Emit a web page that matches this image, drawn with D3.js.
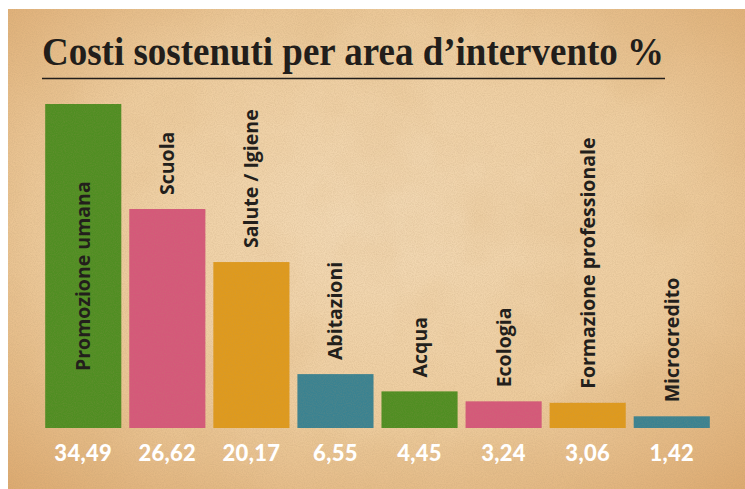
<!DOCTYPE html>
<html>
<head>
<meta charset="utf-8">
<script src="https://cdn.jsdelivr.net/npm/d3@7"></script>
<style>
  html, body { margin: 0; padding: 0; background: #fff; }
  svg { display: block; }
</style>
</head>
<body>
<svg id="chart"></svg>
<script>
// data
const categories = ["Promozione umana", "Scuola", "Salute / Igiene", "Abitazioni", "Acqua", "Ecologia", "Formazione professionale", "Microcredito"];
const values = [34.49, 26.62, 20.17, 6.55, 4.45, 3.24, 3.06, 1.42];
const valueLabels = ["34,49", "26,62", "20,17", "6,55", "4,45", "3,24", "3,06", "1,42"];
const barColors = ["#4f8e22", "#d5587a", "#df9a1d", "#3a8291", "#4f8e22", "#d5587a", "#df9a1d", "#3a8291"];
const title = "Costi sostenuti per area d\u2019intervento %";

const width = 745;
const height = 489;
const marginLeft = 41;
const marginRight = 31;
const baseline = 428;

const svg = d3.select("svg#chart")
  .attr("width", width)
  .attr("height", height)
  .attr("viewBox", [0, 0, width, height]);

const defs = svg.append("defs");

// parchment look
const grad = defs.append("radialGradient")
  .attr("id", "paper")
  .attr("cx", "50%").attr("cy", "45%").attr("r", "75%");
grad.append("stop").attr("offset", "0%").attr("stop-color", "#f3dab6");
grad.append("stop").attr("offset", "55%").attr("stop-color", "#eecd9f");
grad.append("stop").attr("offset", "100%").attr("stop-color", "#dca96f");

const noise = defs.append("filter").attr("id", "grain")
  .attr("x", 0).attr("y", 0).attr("width", "100%").attr("height", "100%");
noise.append("feTurbulence")
  .attr("type", "fractalNoise")
  .attr("baseFrequency", 0.9)
  .attr("numOctaves", 2)
  .attr("seed", 3)
  .attr("result", "t");
noise.append("feColorMatrix")
  .attr("in", "t")
  .attr("type", "matrix")
  .attr("values", "0 0 0 0 0.45  0 0 0 0 0.3  0 0 0 0 0.15  0 0 0 -1.1 0.75");

// big soft blotches
const blot = defs.append("filter").attr("id", "blot")
  .attr("x", 0).attr("y", 0).attr("width", "100%").attr("height", "100%");
blot.append("feTurbulence")
  .attr("type", "fractalNoise")
  .attr("baseFrequency", 0.012)
  .attr("numOctaves", 3)
  .attr("seed", 7)
  .attr("result", "t");
blot.append("feColorMatrix")
  .attr("in", "t")
  .attr("type", "matrix")
  .attr("values", "0 0 0 0 0.72  0 0 0 0 0.45  0 0 0 0 0.2  0 0 0 -1.6 0.9");

svg.append("rect")
  .attr("x", 8).attr("y", 9)
  .attr("width", width - 8).attr("height", height - 9)
  .attr("fill", "url(#paper)");
svg.append("rect")
  .attr("x", 8).attr("y", 9)
  .attr("width", width - 8).attr("height", height - 9)
  .attr("filter", "url(#blot)")
  .attr("opacity", 0.35);
svg.append("rect")
  .attr("x", 8).attr("y", 9)
  .attr("width", width - 8).attr("height", height - 9)
  .attr("filter", "url(#grain)")
  .attr("opacity", 0.35);

// title + rule
svg.append("text")
  .attr("x", 42)
  .attr("y", 65)
  .attr("textLength", 622)
  .attr("lengthAdjust", "spacingAndGlyphs")
  .attr("font-family", "Liberation Serif, DejaVu Serif, serif")
  .attr("font-weight", "bold")
  .attr("font-size", 40)
  .attr("fill", "#221e1b")
  .text(title);

svg.append("line")
  .attr("x1", 42).attr("x2", 665)
  .attr("y1", 78.5).attr("y2", 78.5)
  .attr("stroke", "#221e1b")
  .attr("stroke-width", 1.3);

// scales; the first bar is drawn taller than the others in the original,
// so the y scale gets a break above the second value
const x = d3.scaleBand()
  .domain(categories)
  .range([marginLeft, width - marginRight])
  .paddingInner(0.095)
  .paddingOuter(0.05);

const y = d3.scaleLinear()
  .domain([0, 26.62, 34.49])
  .range([baseline, 209, 104]);

const bars = svg.append("g");
bars.selectAll("rect")
  .data(categories)
  .join("rect")
  .attr("x", d => x(d))
  .attr("y", (d, i) => y(values[i]))
  .attr("width", x.bandwidth())
  .attr("height", (d, i) => baseline - y(values[i]))
  .attr("fill", (d, i) => barColors[i]);

// grain over bars too
bars.selectAll("rect.grain")
  .data(categories)
  .join("rect")
  .attr("class", "grain")
  .attr("x", d => x(d))
  .attr("y", (d, i) => y(values[i]))
  .attr("width", x.bandwidth())
  .attr("height", (d, i) => baseline - y(values[i]))
  .attr("filter", "url(#grain)")
  .attr("opacity", 0.25);

// category labels, rotated
svg.append("g")
  .selectAll("text")
  .data(categories)
  .join("text")
  .attr("transform", (d, i) => {
    const cx = x(d) + x.bandwidth() / 2;
    const ty = i === 0 ? baseline - 57 : y(values[i]) - 14;
    return `translate(${cx},${ty}) rotate(-90)`;
  })
  .attr("dy", "0.36em")
  .attr("text-anchor", "start")
  .attr("font-family", "Open Sans, sans-serif")
  .attr("font-weight", "bold")
  .attr("font-size", 19.5)
  .attr("fill", "#231f1c")
  .text(d => d);

// value labels
svg.append("g")
  .selectAll("text")
  .data(categories)
  .join("text")
  .attr("x", d => x(d) + x.bandwidth() / 2)
  .attr("y", 461)
  .attr("text-anchor", "middle")
  .attr("font-family", "Lato, sans-serif")
  .attr("font-weight", 900)
  .attr("font-size", 22)
  .attr("letter-spacing", 0.3)
  .attr("fill", "#ffffff")
  .text((d, i) => valueLabels[i]);
</script>
</body>
</html>
